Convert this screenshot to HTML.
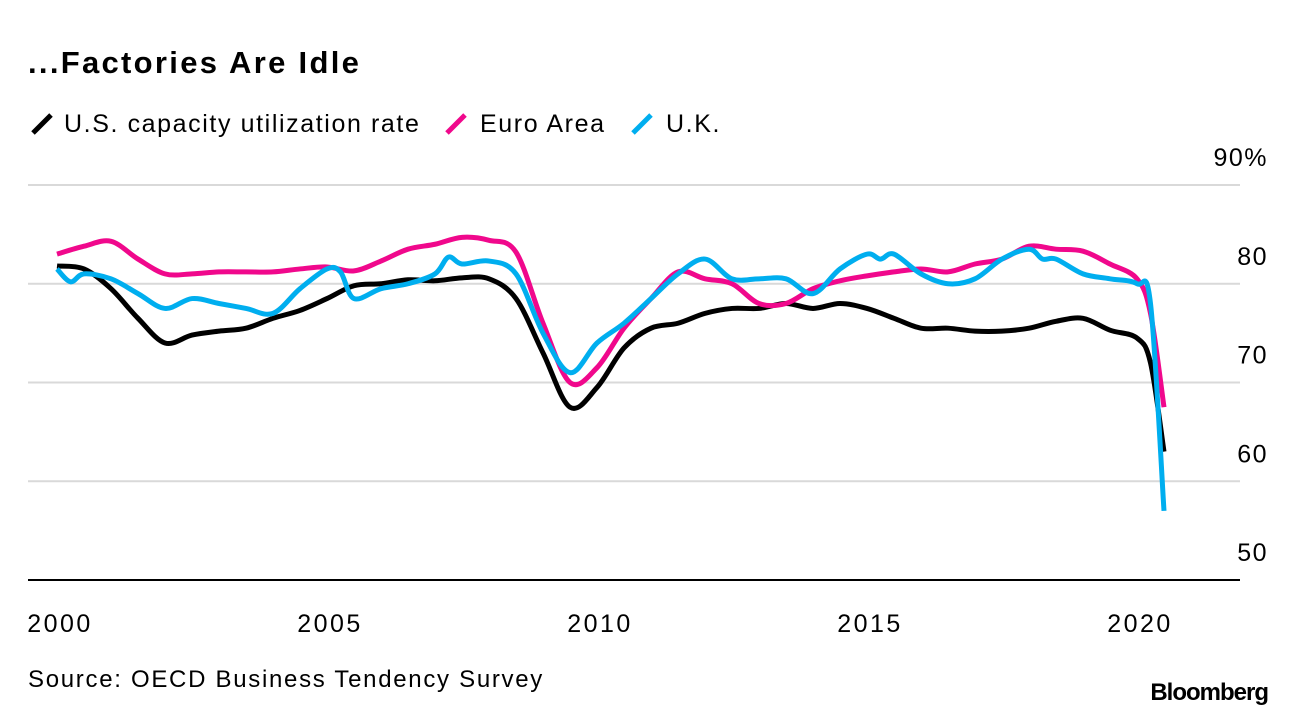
<!DOCTYPE html>
<html><head><meta charset="utf-8"><style>
body{margin:0;background:#fff;font-family:"Liberation Sans",sans-serif;}
svg text{font-family:"Liberation Sans",sans-serif;fill:#000;}
</style></head><body>
<svg width="1296" height="718">
<text x="28" y="73" font-size="31" font-weight="bold" letter-spacing="2.3">...Factories Are Idle</text>
<g>
<g><line x1="33" y1="133" x2="51" y2="115" stroke="#000" stroke-width="5"/><text x="64" y="132" font-size="25" letter-spacing="1.6">U.S. capacity utilization rate</text></g>
<g><line x1="447" y1="133" x2="465" y2="115" stroke="#f0088c" stroke-width="5"/><text x="480" y="132" font-size="25" letter-spacing="1.6">Euro Area</text></g>
<g><line x1="633" y1="133" x2="651" y2="115" stroke="#00aeef" stroke-width="5"/><text x="666" y="132" font-size="25" letter-spacing="1.6">U.K.</text></g>
</g>
<g id="grid"></g><g id="series"></g><g id="xt"></g>
<text x="28" y="687" font-size="24" letter-spacing="1.7">Source: OECD Business Tendency Survey</text>
<text x="1268" y="700" font-size="24" font-weight="bold" text-anchor="end" letter-spacing="-1">Bloomberg</text>
</svg>
<script>
const yTicks=[50,60,70,80,90];
const xTicks=[2000,2005,2010,2015,2020];
const usT=[2000,2000.5,2001,2001.5,2002,2002.5,2003,2003.5,2004,2004.5,2005,2005.5,2006,2006.5,2007,2007.5,2008,2008.5,2009,2009.5,2010,2010.5,2011,2011.5,2012,2012.5,2013,2013.5,2014,2014.5,2015,2015.5,2016,2016.5,2017,2017.5,2018,2018.5,2019,2019.5,2020,2020.25,2020.5];
const usV=[81.8,81.5,79.5,76.5,74,74.8,75.2,75.5,76.5,77.3,78.5,79.8,80,80.4,80.3,80.6,80.5,78.5,73,67.5,69.5,73.5,75.5,76,77,77.5,77.5,78,77.5,78,77.5,76.5,75.5,75.5,75.2,75.2,75.5,76.2,76.5,75.3,74.5,72,63];
const euT=usT;
const euV=[83,83.8,84.3,82.5,81,81,81.2,81.2,81.2,81.5,81.7,81.3,82.3,83.5,84,84.7,84.4,83.2,76,70,71.5,75.5,78.5,81.2,80.5,80,78,78,79.5,80.3,80.8,81.2,81.5,81.2,82,82.5,83.8,83.5,83.3,82,80.5,77,67.5];
const ukT=[2000,2000.25,2000.5,2001,2001.5,2002,2002.5,2003,2003.5,2004,2004.5,2005,2005.25,2005.5,2006,2006.5,2007,2007.25,2007.5,2008,2008.5,2009,2009.5,2010,2010.5,2011,2011.5,2012,2012.5,2013,2013.5,2014,2014.5,2015,2015.25,2015.5,2016,2016.5,2017,2017.5,2018,2018.25,2018.5,2019,2019.5,2020,2020.25,2020.5];
const ukV=[81.5,80.2,81,80.5,79,77.5,78.5,78,77.5,77,79.5,81.5,81.2,78.5,79.5,80,81,82.7,82,82.3,81,75,71,74,76,78.5,81,82.5,80.5,80.5,80.5,79,81.5,83,82.5,83,81,80,80.5,82.5,83.5,82.5,82.5,81,80.5,80,78,57];
const X=t=>57+(t-2000)*54.0, Y=v=>580-(v-50)*9.875;
const NS="http://www.w3.org/2000/svg";
const grid=document.getElementById('grid');
yTicks.forEach(v=>{
 if(v>50){const l=document.createElementNS(NS,'line');
 l.setAttribute('x1',28);l.setAttribute('x2',1240);l.setAttribute('y1',Y(v));l.setAttribute('y2',Y(v));l.setAttribute('stroke','#d9d9d9');l.setAttribute('stroke-width',2);
 
 
 grid.appendChild(l);}
 const t=document.createElementNS(NS,'text');t.setAttribute('x',1268);t.setAttribute('y',Y(v)-19);t.setAttribute('text-anchor','end');t.setAttribute('font-size',25);t.setAttribute('letter-spacing',1.5);
 t.textContent=v===90?'90%':v;
 
 
 grid.appendChild(t);
});
const ax=document.createElementNS(NS,'line');ax.setAttribute('x1',28);ax.setAttribute('x2',1240);ax.setAttribute('y1',580);ax.setAttribute('y2',580);ax.setAttribute('stroke','#000');ax.setAttribute('stroke-width',2);


grid.appendChild(ax);
const xt=document.getElementById('xt');
xTicks.forEach(v=>{const t=document.createElementNS(NS,'text');t.setAttribute('x',X(v)+3);t.setAttribute('y',632);t.setAttribute('text-anchor','middle');t.setAttribute('font-size',25);t.setAttribute('letter-spacing',2.5);t.textContent=v;
 
 
 xt.appendChild(t);});
function path(ts,vs){const p=ts.map((t,i)=>[X(t),Y(vs[i])]);let d='M'+p[0][0]+','+p[0][1];
 for(let i=0;i<p.length-1;i++){const p0=p[i-1]||p[i],p1=p[i],p2=p[i+1],p3=p[i+2]||p2;
 d+=' C'+(p1[0]+(p2[0]-p0[0])/6)+','+(p1[1]+(p2[1]-p0[1])/6)+' '+(p2[0]-(p3[0]-p1[0])/6)+','+(p2[1]-(p3[1]-p1[1])/6)+' '+p2[0]+','+p2[1];}
 return d;}
const S=document.getElementById('series');
[[usT,usV,'#000','series-us'],[euT,euV,'#f0088c','series-euro-area'],[ukT,ukV,'#00aeef','series-uk']].forEach(s=>{
 const p=document.createElementNS(NS,'path');p.setAttribute('d',path(s[0],s[1]));p.setAttribute('fill','none');p.setAttribute('stroke',s[2]);p.setAttribute('stroke-width',5);p.setAttribute('stroke-linejoin','round');
 
 
 S.appendChild(p);});
</script>
</body></html>
